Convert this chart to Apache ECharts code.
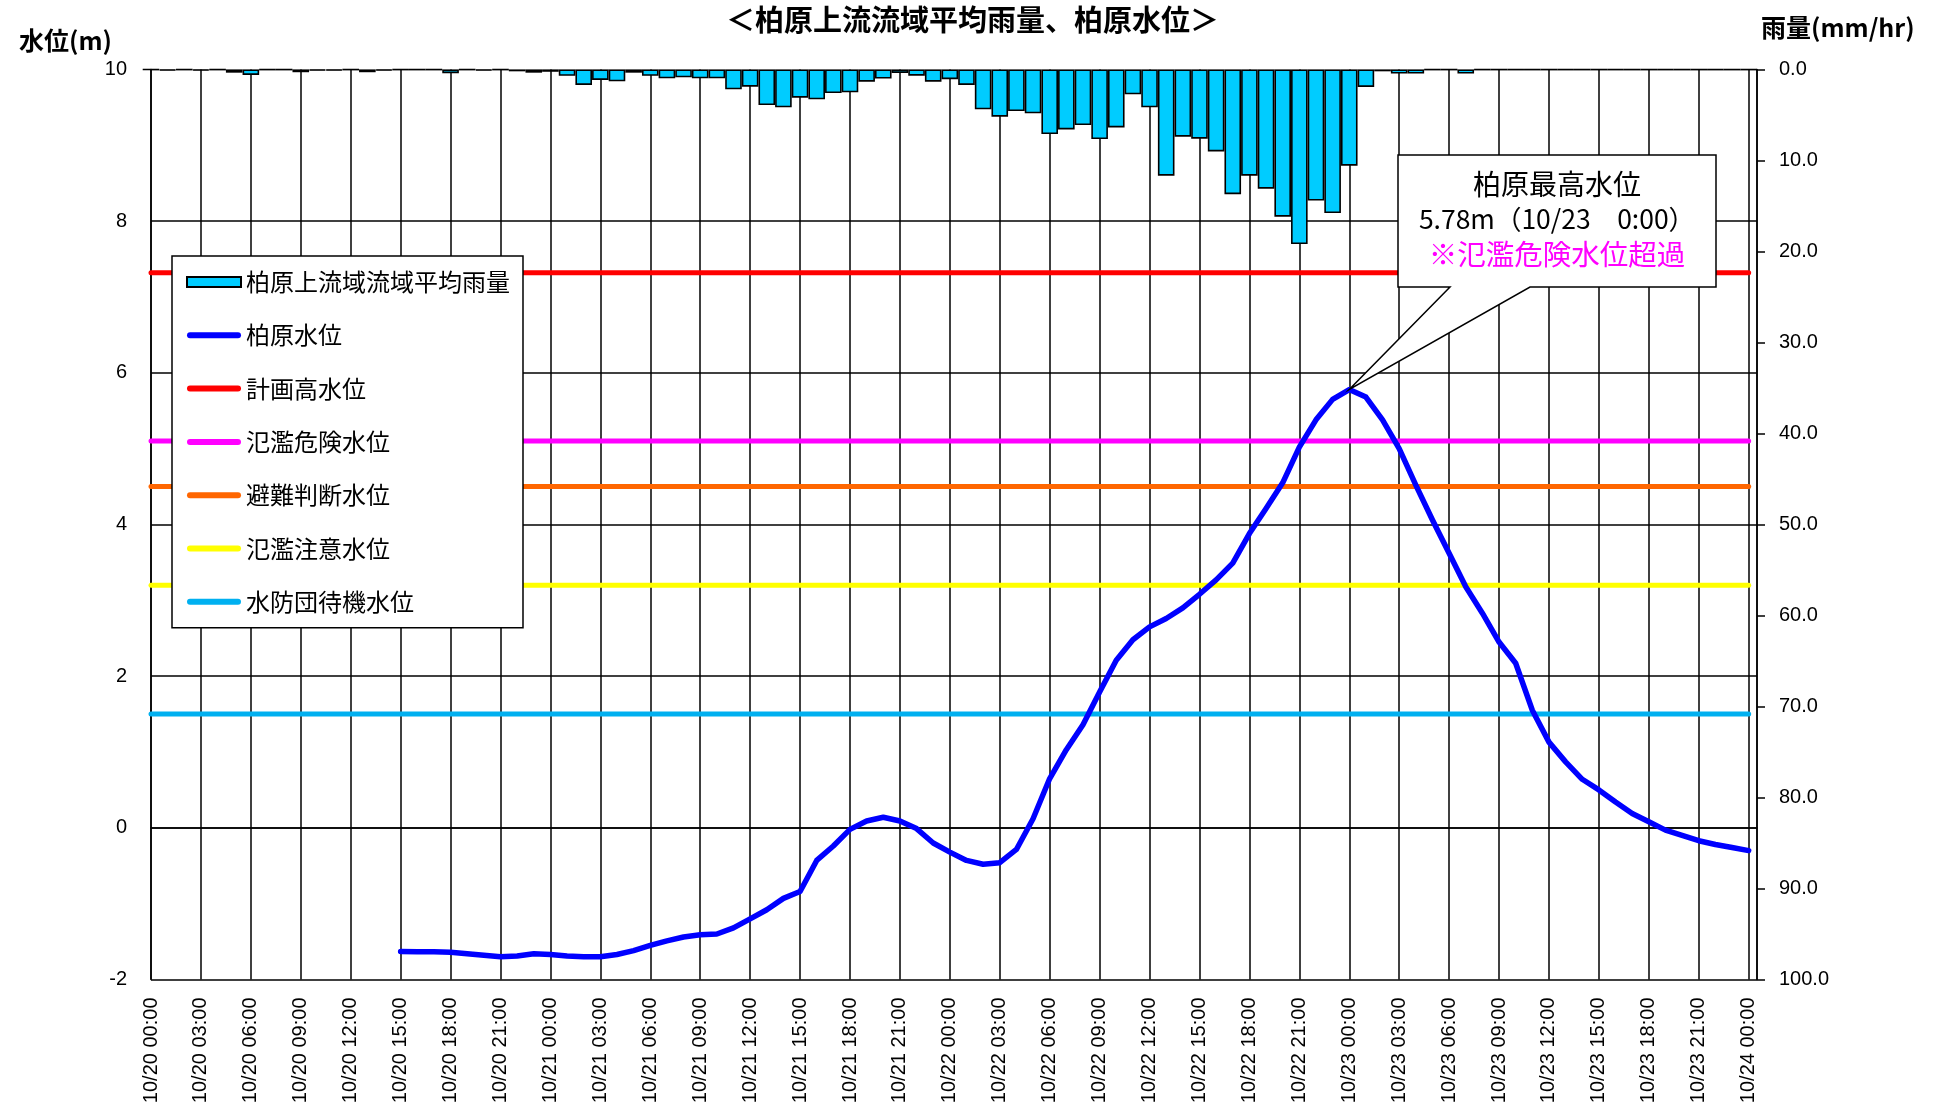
<!DOCTYPE html>
<html><head><meta charset="utf-8">
<script src="https://cdn.jsdelivr.net/npm/echarts@6/dist/echarts.min.js"></script>
<style>html,body{margin:0;padding:0;background:#fff}#c{width:1945px;height:1117px}</style>
</head><body><div id="c"></div>
<script>
const chartTitle = '＜柏原上流流域平均雨量、柏原水位＞';
const leftAxisName = '水位(m)';
const rightAxisName = '雨量(mm/hr)';

const xTickLabels = [
  '10/20 00:00','10/20 03:00','10/20 06:00','10/20 09:00','10/20 12:00','10/20 15:00','10/20 18:00','10/20 21:00',
  '10/21 00:00','10/21 03:00','10/21 06:00','10/21 09:00','10/21 12:00','10/21 15:00','10/21 18:00','10/21 21:00',
  '10/22 00:00','10/22 03:00','10/22 06:00','10/22 09:00','10/22 12:00','10/22 15:00','10/22 18:00','10/22 21:00',
  '10/23 00:00','10/23 03:00','10/23 06:00','10/23 09:00','10/23 12:00','10/23 15:00','10/23 18:00','10/23 21:00',
  '10/24 00:00'
];

// hourly rainfall (mm/hr), hour 0 = 10/20 00:00
const rainName = '柏原上流域流域平均雨量';
const rainHourly = [
  0, 0.1, 0, 0.1, 0, 0.35, 0.6, 0, 0, 0.3, 0.1, 0.1, 0, 0.3, 0.1, 0, 0, 0, 0.4, 0, 0.1, 0, 0.2, 0.35,
  0.25, 0.7, 1.7, 1.15, 1.3, 0.35, 0.7, 0.97, 0.86, 0.97, 0.97, 2.18, 1.89, 3.9, 4.16, 3.1, 3.28, 2.58, 2.5, 1.34, 1.0, 0.38, 0.68, 1.34,
  1.06, 1.7, 4.38, 5.18, 4.56, 4.82, 7.09, 6.58, 6.1, 7.64, 6.36, 2.73, 4.16, 11.67, 7.38, 7.6, 9.0, 13.7, 11.67, 13.1, 16.17, 19.18, 14.4, 15.77,
  10.57, 1.92, 0.2, 0.45, 0.45, 0, 0, 0.45, 0, 0, 0, 0, 0, 0, 0, 0, 0, 0, 0, 0, 0, 0, 0, 0,
  0
];

// hourly water level (m), starting at 10/20 15:00
const levelName = '柏原水位';
const levelStartHour = 15;
const levelHourly = [
  -1.63, -1.635, -1.635, -1.64, -1.66, -1.68, -1.70, -1.69, -1.66,
  -1.67, -1.69, -1.70, -1.70, -1.67, -1.62, -1.55, -1.49, -1.44, -1.41, -1.40, -1.32, -1.20, -1.08, -0.93,
  -0.84, -0.43, -0.24, -0.02, 0.09, 0.14, 0.09, -0.01,
  -0.20, -0.32, -0.43, -0.48, -0.46, -0.285, 0.12, 0.65, 1.03, 1.36, 1.79, 2.21, 2.48, 2.65, 2.76, 2.90,
  3.08, 3.27, 3.49, 3.88, 4.21, 4.55, 5.02, 5.38, 5.65,
  5.78, 5.68, 5.38, 5.00, 4.52, 4.06, 3.62, 3.18, 2.83, 2.45, 2.17, 1.55, 1.13, 0.87, 0.64,
  0.50, 0.34, 0.19, 0.08, -0.03, -0.10, -0.17, -0.22, -0.26, -0.30
];

const refNames = ['計画高水位', '氾濫危険水位', '避難判断水位', '氾濫注意水位', '水防団待機水位'];
const refValues = [7.32, 5.10, 4.50, 3.20, 1.50];
const refColors = ['#FF0000', '#FF00FF', '#FF6600', '#FFFF00', '#00B0F0'];

const calloutTitle = '柏原最高水位';
const calloutNote = '※氾濫危険水位超過';

const CJK = '"Noto Sans CJK JP", "Noto Sans", sans-serif';
const NUM = '"Liberation Sans", Arial, sans-serif';
const LINE_ICON = 'path://M3,0 L51,0 A3,3 0 0 1 51,6 L3,6 A3,3 0 0 1 3,0 Z';

const chart = echarts.init(document.getElementById('c'), null, {renderer: 'canvas'});

const lastHour = rainHourly.length - 1;
const series = [];
series.push({
  name: rainName, type: 'bar', xAxisIndex: 0, yAxisIndex: 1,
  barWidth: 16.6, z: 2,
  itemStyle: {color: '#00CCFF', borderColor: '#000', borderWidth: 1.6},
  data: rainHourly.map((v, i) => [i, v])
});
refNames.forEach((n, k) => {
  series.push({
    name: n, type: 'line', xAxisIndex: 0, yAxisIndex: 0, symbol: 'none', z: 3,
    lineStyle: {color: refColors[k], width: 5, cap: 'round'},
    itemStyle: {color: refColors[k]},
    data: [[0, refValues[k]], [lastHour, refValues[k]]]
  });
});
series.push({
  name: levelName, type: 'line', xAxisIndex: 0, yAxisIndex: 0, symbol: 'none', z: 5,
  lineStyle: {color: '#0000FF', width: 5.5, cap: 'round', join: 'round'},
  itemStyle: {color: '#0000FF'},
  data: levelHourly.map((v, i) => [levelStartHour + i, v])
});

chart.setOption({
  animation: false,
  backgroundColor: '#fff',
  title: {
    text: chartTitle, left: 'center', top: 5, padding: 0,
    textStyle: {fontFamily: CJK, fontSize: 29, fontWeight: 'bold', color: '#000'}
  },
  grid: {left: 151, right: 188, top: 69.5, bottom: 137.5, containLabel: false},
  legend: {
    orient: 'vertical', left: 172, top: 256,
    padding: [14, 13, 14, 14], itemGap: 29.3,
    itemWidth: 54, itemHeight: 10, itemTextGap: 6,
    symbolKeepAspect: true,
    backgroundColor: '#fff', borderColor: '#000', borderWidth: 1.5,
    textStyle: {fontFamily: CJK, fontSize: 24, color: '#000', lineHeight: 24},
    data: [{name: rainName, icon: 'rect', itemStyle: {borderColor: '#000', borderWidth: 2}}]
      .concat([levelName].concat(refNames).map(n => ({name: n, icon: LINE_ICON})))
  },
  xAxis: {
    type: 'value', min: 0, max: 96.5, interval: 3,
    axisLine: {show: true, lineStyle: {color: '#000', width: 1.5}},
    axisTick: {show: false},
    splitLine: {show: true, lineStyle: {color: '#000', width: 1.5}},
    axisLabel: {
      rotate: 90, margin: 18, color: '#000', fontFamily: NUM, fontSize: 20,
      showMaxLabel: false,
      formatter: v => (v % 3 === 0 && xTickLabels[v / 3] !== undefined) ? xTickLabels[v / 3] : ''
    }
  },
  yAxis: [
    {
      type: 'value', min: -2, max: 10, interval: 2, position: 'left',
      name: leftAxisName, nameLocation: 'end', nameGap: 29,
      nameTextStyle: {fontFamily: CJK, fontSize: 25, fontWeight: 'bold', color: '#000', align: 'right', verticalAlign: 'middle', padding: [0, 39, 0, 0]},
      axisLine: {show: true, lineStyle: {color: '#000', width: 1.5}},
      axisTick: {show: false},
      splitLine: {show: true, lineStyle: {color: ['#000', '#000', '#000', '#000', '#000', '#000', '#bbb'], width: 1.5}},
      axisLabel: {color: '#000', fontFamily: NUM, fontSize: 20, margin: 24}
    },
    {
      type: 'value', min: 0, max: 100, interval: 10, inverse: true, position: 'right',
      name: rightAxisName, nameLocation: 'start', nameGap: 42,
      nameTextStyle: {fontFamily: CJK, fontSize: 25, fontWeight: 'bold', color: '#000', align: 'left', verticalAlign: 'middle', padding: [0, 0, 0, 4]},
      axisLine: {show: true, lineStyle: {color: '#000', width: 1.5}},
      axisTick: {show: true, inside: false, length: 8, lineStyle: {color: '#000', width: 1.5}},
      splitLine: {show: false},
      axisLabel: {color: '#000', fontFamily: NUM, fontSize: 20, margin: 22, formatter: v => v.toFixed(1)}
    }
  ],
  series: series
});

// callout pointing to the peak
let peakIdx = 0;
levelHourly.forEach((v, i) => { if (v > levelHourly[peakIdx]) peakIdx = i; });
const peakHour = levelStartHour + peakIdx;
const peakVal = levelHourly[peakIdx];
const peakLabel = xTickLabels[peakHour / 3] || '';
const md = peakLabel.split(' ')[0];
const hm = peakLabel.split(' ')[1] || '';
const hmShort = hm.replace(/^0(\d)/, '$1');
const tip = chart.convertToPixel({xAxisIndex: 0, yAxisIndex: 0}, [peakHour, peakVal]);
const bx0 = 1398, bx1 = 1716, by0 = 155, by1 = 287;
chart.setOption({
  graphic: [
    {
      type: 'polygon', z: 100,
      shape: {points: [[bx0, by0], [bx1, by0], [bx1, by1], [1530, by1], [tip[0], tip[1]], [1450, by1], [bx0, by1]]},
      style: {fill: '#fff', stroke: '#000', lineWidth: 1.5}
    },
    {
      type: 'text', z: 101, x: (bx0 + bx1) / 2, y: 184,
      style: {text: calloutTitle, fill: '#000', font: '28px ' + CJK, textAlign: 'center', textVerticalAlign: 'middle'}
    },
    {
      type: 'text', z: 101, x: (bx0 + bx1) / 2, y: 219,
      style: {text: peakVal.toFixed(2) + 'm（' + md + '　' + hmShort + '）', fill: '#000', font: '26.5px ' + CJK, textAlign: 'center', textVerticalAlign: 'middle'}
    },
    {
      type: 'text', z: 101, x: (bx0 + bx1) / 2, y: 254,
      style: {text: calloutNote, fill: '#FF00FF', font: '28.5px ' + CJK, textAlign: 'center', textVerticalAlign: 'middle'}
    }
  ]
});
</script>
</body></html>
